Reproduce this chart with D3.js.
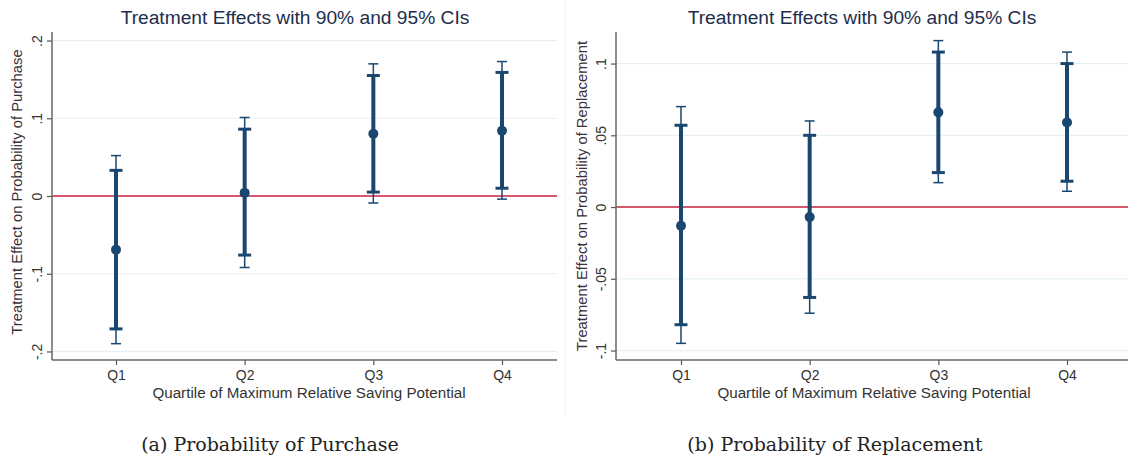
<!DOCTYPE html>
<html>
<head>
<meta charset="utf-8">
<script src="https://cdn.jsdelivr.net/npm/d3@7"></script>
<style>
  body { margin: 0; background: #fff; }
  svg { display: block; }
</style>
</head>
<body>
<svg id="chart" width="1131" height="458"></svg>
<script>
(function () {
  'use strict';

  var quartiles = ['Q1', 'Q2', 'Q3', 'Q4'];
  var quartilePos = [1, 2, 3, 4];

  // (a) probability of purchase
  var purchaseEst = [-0.069, 0.004, 0.080, 0.084];
  var purchaseLo90 = [-0.171, -0.076, 0.005, 0.010];
  var purchaseHi90 = [0.033, 0.086, 0.155, 0.159];
  var purchaseLo95 = [-0.190, -0.092, -0.009, -0.004];
  var purchaseHi95 = [0.052, 0.101, 0.170, 0.173];
  var purchaseTicks = [-0.2, -0.1, 0, 0.1, 0.2];
  var purchaseTickLabels = ['-.2', '-.1', '0', '.1', '.2'];

  // (b) probability of replacement
  var replaceEst = [-0.013, -0.007, 0.066, 0.059];
  var replaceLo90 = [-0.082, -0.063, 0.024, 0.018];
  var replaceHi90 = [0.057, 0.050, 0.108, 0.100];
  var replaceLo95 = [-0.095, -0.074, 0.017, 0.011];
  var replaceHi95 = [0.070, 0.060, 0.116, 0.108];
  var replaceTicks = [-0.1, -0.05, 0, 0.05, 0.1];
  var replaceTickLabels = ['-.1', '-.05', '0', '.05', '.1'];

  var navy = '#1a476f',
    sans = 'Liberation Sans, Arial, sans-serif',
    svg = d3.select('#chart');

  function drawPanel(p) {
    var g = svg.append('g'),
      x = d3.scaleLinear().domain([1, 4]).range(p.xRange),
      y = d3.scaleLinear().domain(p.yDomain).range([360, 32]),
      rows = quartilePos.map(function (q, i) {
        return { q: q, est: p.est[i], lo90: p.lo90[i], hi90: p.hi90[i], lo95: p.lo95[i], hi95: p.hi95[i] };
      });

    // grid
    g.selectAll('line.grid').data(p.ticks.filter(function (t) { return t !== 0; }))
      .enter().append('line')
      .attr('x1', p.left).attr('x2', p.right)
      .attr('y1', function (d) { return y(d); }).attr('y2', function (d) { return y(d); })
      .attr('stroke', '#e6eff2').attr('stroke-width', 1.2);

    // zero line
    g.append('line')
      .attr('x1', p.left).attr('x2', p.right)
      .attr('y1', y(0)).attr('y2', y(0))
      .attr('stroke', '#c9203f').attr('stroke-width', 1.5);

    // y axis, labels turned like stata's vertical ticks
    var ya = g.append('g').attr('transform', 'translate(' + p.left + ',0)')
      .call(d3.axisLeft(y).tickValues(p.ticks).tickSize(5)
        .tickFormat(function (d, i) { return p.tickLabels[i]; }));
    ya.select('.domain').remove();
    ya.selectAll('.tick line').attr('stroke', '#555').attr('stroke-width', 1.2);
    ya.selectAll('.tick text')
      .attr('x', 0).attr('y', -10).attr('dy', 0)
      .attr('transform', 'rotate(-90)')
      .attr('text-anchor', 'middle')
      .style('font-family', sans).style('font-size', '14px').attr('fill', '#333');

    // x axis
    var xa = g.append('g').attr('transform', 'translate(0,360)')
      .call(d3.axisBottom(x).tickValues(quartilePos).tickSize(5).tickPadding(5)
        .tickFormat(function (d, i) { return quartiles[i]; }));
    xa.select('.domain').remove();
    xa.selectAll('.tick line').attr('stroke', '#555').attr('stroke-width', 1.2);
    xa.selectAll('.tick text')
      .style('font-family', sans).style('font-size', '14px').attr('fill', '#333');

    // axis lines
    g.append('line').attr('x1', p.left).attr('x2', p.left).attr('y1', 32).attr('y2', 360)
      .attr('stroke', '#666').attr('stroke-width', 1.5);
    g.append('line').attr('x1', p.left).attr('x2', p.right).attr('y1', 360).attr('y2', 360)
      .attr('stroke', '#666').attr('stroke-width', 1.5);

    // 95% CI (thin)
    var ci95 = g.selectAll('g.ci95').data(rows).enter().append('g');
    ci95.append('line')
      .attr('x1', function (d) { return x(d.q); }).attr('x2', function (d) { return x(d.q); })
      .attr('y1', function (d) { return y(d.lo95); }).attr('y2', function (d) { return y(d.hi95); })
      .attr('stroke', navy).attr('stroke-width', 1.5);
    ['lo95', 'hi95'].forEach(function (k) {
      ci95.append('line')
        .attr('x1', function (d) { return x(d.q) - 5; }).attr('x2', function (d) { return x(d.q) + 5; })
        .attr('y1', function (d) { return y(d[k]); }).attr('y2', function (d) { return y(d[k]); })
        .attr('stroke', navy).attr('stroke-width', 1.5);
    });

    // 90% CI (thick)
    var ci90 = g.selectAll('g.ci90').data(rows).enter().append('g');
    ci90.append('line')
      .attr('x1', function (d) { return x(d.q); }).attr('x2', function (d) { return x(d.q); })
      .attr('y1', function (d) { return y(d.lo90); }).attr('y2', function (d) { return y(d.hi90); })
      .attr('stroke', navy).attr('stroke-width', 4);
    ['lo90', 'hi90'].forEach(function (k) {
      ci90.append('line')
        .attr('x1', function (d) { return x(d.q) - 6.5; }).attr('x2', function (d) { return x(d.q) + 6.5; })
        .attr('y1', function (d) { return y(d[k]); }).attr('y2', function (d) { return y(d[k]); })
        .attr('stroke', navy).attr('stroke-width', 3);
    });

    // point estimates
    g.selectAll('circle').data(rows).enter().append('circle')
      .attr('cx', function (d) { return x(d.q); })
      .attr('cy', function (d) { return y(d.est); })
      .attr('r', 5).attr('fill', navy);

    // titles
    g.append('text').attr('x', p.titleX).attr('y', 24)
      .attr('text-anchor', 'middle').attr('fill', '#1e2e4c')
      .style('font-family', sans).style('font-size', '19.2px')
      .text('Treatment Effects with 90% and 95% CIs');

    g.append('text').attr('x', p.xTitleX).attr('y', 398)
      .attr('text-anchor', 'middle').attr('fill', '#333')
      .style('font-family', sans).style('font-size', '15.2px')
      .text('Quartile of Maximum Relative Saving Potential');

    g.append('text')
      .attr('transform', 'translate(' + p.yTitleX + ',' + p.yTitleY + ') rotate(-90)')
      .attr('text-anchor', 'middle').attr('fill', '#3a2f3a')
      .style('font-family', sans).style('font-size', '14.8px')
      .text(p.yTitle);

    g.append('text').attr('x', p.captionX).attr('y', 451)
      .attr('text-anchor', 'middle').attr('fill', '#222')
      .style('font-family', 'DejaVu Serif, Liberation Serif, serif').style('font-size', '19px')
      .text(p.caption);
  }

  drawPanel({
    est: purchaseEst, lo90: purchaseLo90, hi90: purchaseHi90, lo95: purchaseLo95, hi95: purchaseHi95,
    ticks: purchaseTicks, tickLabels: purchaseTickLabels,
    yDomain: [-0.211, 0.211], xRange: [116, 502], left: 52, right: 557,
    titleX: 295, xTitleX: 309, yTitleX: 22, yTitleY: 192,
    yTitle: 'Treatment Effect on Probability of Purchase',
    captionX: 270, caption: '(a) Probability of Purchase'
  });

  drawPanel({
    est: replaceEst, lo90: replaceLo90, hi90: replaceHi90, lo95: replaceLo95, hi95: replaceHi95,
    ticks: replaceTicks, tickLabels: replaceTickLabels,
    yDomain: [-0.1066, 0.122], xRange: [681, 1067], left: 616, right: 1128,
    titleX: 862, xTitleX: 874, yTitleX: 587, yTitleY: 196,
    yTitle: 'Treatment Effect on Probability of Replacement',
    captionX: 835, caption: '(b) Probability of Replacement'
  });

  // faint edge between the two figure images
  svg.append('line').attr('x1', 565).attr('x2', 565).attr('y1', 0).attr('y2', 418)
    .attr('stroke', '#f2f2f2').attr('stroke-width', 1);
})();
</script>
</body>
</html>
